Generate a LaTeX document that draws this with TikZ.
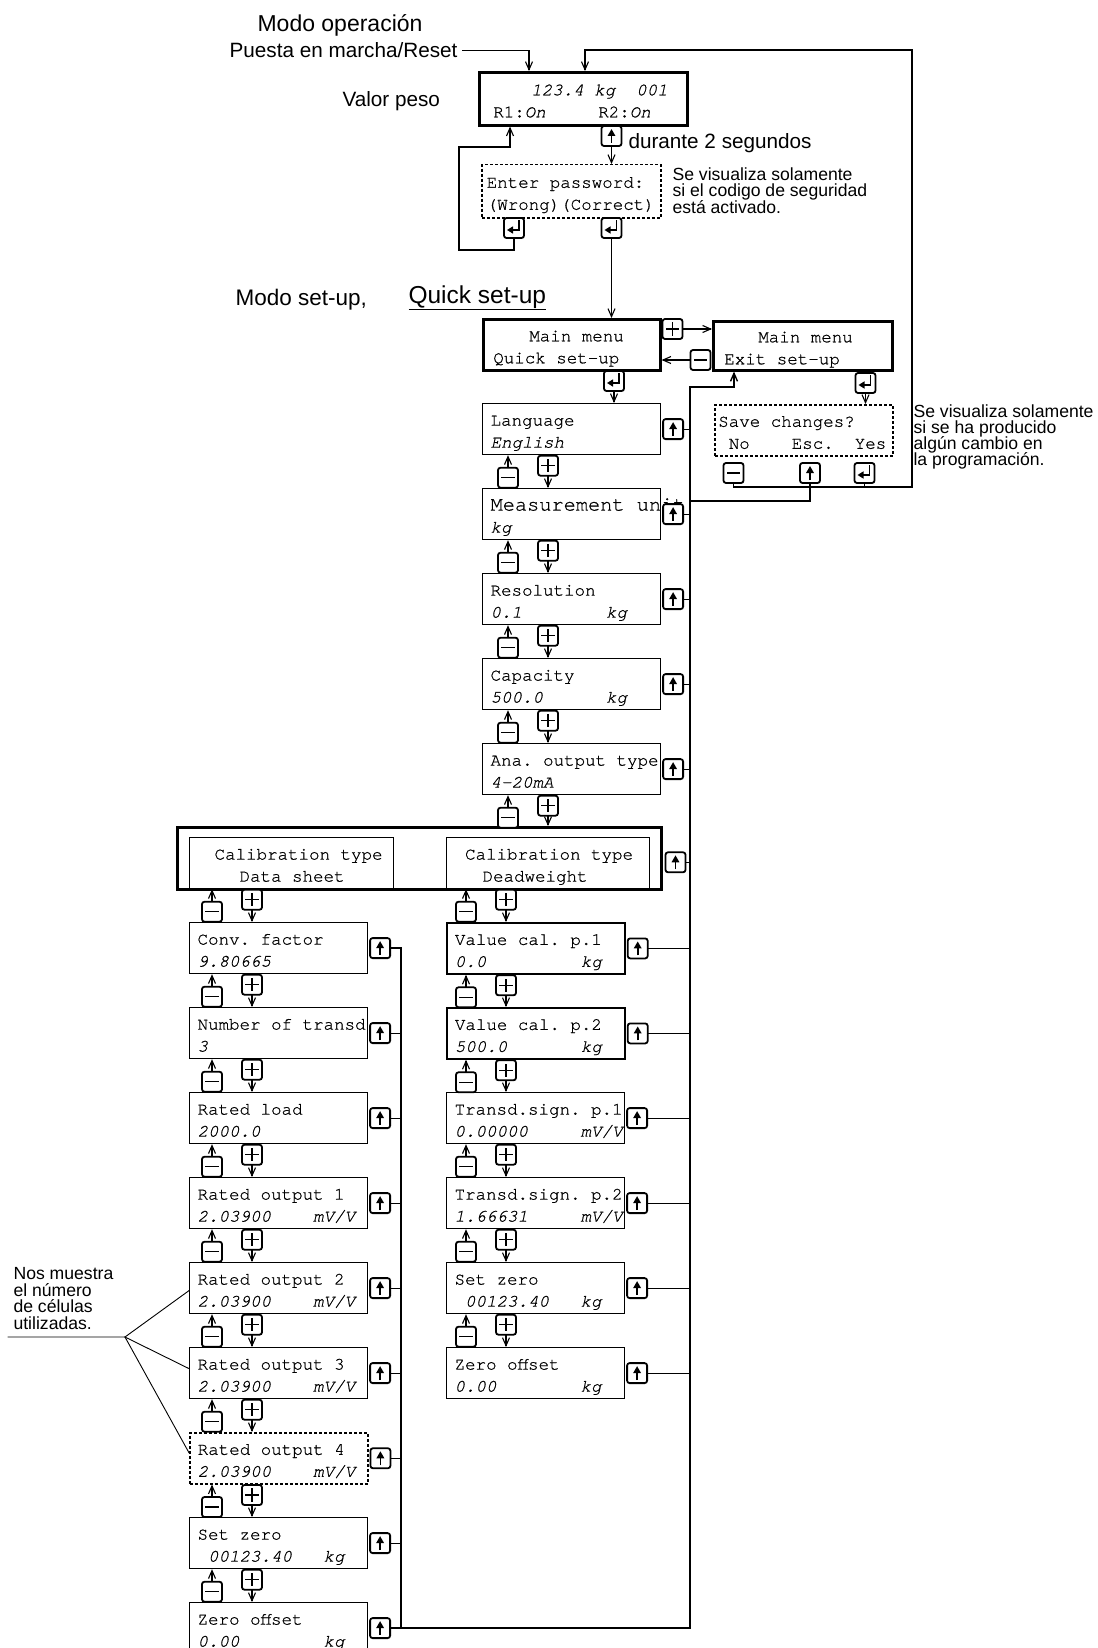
\documentclass[tikz,border=0pt]{standalone}
\usepackage{fontspec}
\setmainfont{Liberation Sans}
\setmonofont{texgyrecursor}[Extension=.otf, UprightFont=*-regular,
  BoldFont=*-bold, ItalicFont=*-italic, BoldItalicFont=*-bolditalic,
  UprightFeatures={FakeBold=0.7}, ItalicFeatures={FakeBold=0.7}]
\usetikzlibrary{arrows.meta,positioning,calc}

\newcommand\lcdfont{\ttfamily\fontsize{17.5}{22}\selectfont\frenchspacing}
\newcommand\notefont{\fontsize{17.6}{16.5}\selectfont\lineskiplimit=-20pt\relax}
\newcommand\tightnotefont{\fontsize{17.6}{16}\selectfont\lineskiplimit=-20pt\relax}
% two display lines; spaces keep the full character width
\newcommand\lcd[2]{\spaceskip=0pt\xspaceskip=0pt\relax
  \hspace*{8pt}#1\rule{0pt}{19pt}\\\hspace*{8pt}#2\rule[-4pt]{0pt}{4pt}}

\begin{document}
\begin{tikzpicture}[
    x=1pt, y=-1pt, line width=1.1pt, line cap=rect,
    >={Straight Barb[length=8pt,width=7pt]},
    lcd/.style={draw, anchor=north west, line width=1.2pt, inner sep=0pt,
      text width=178pt, minimum height=51pt, align=left, font=\lcdfont},
    thickbox/.style={line width=2.6pt},
    dashbox/.style={line width=1.5pt, line cap=butt, dash pattern=on 3pt off 2pt},
    key/.style={draw, fill=white, line width=1.8pt, rounded corners=2.5pt,
      minimum size=20pt, inner sep=0pt},
    pluskey/.style={key, path picture={
        \draw[line width=1.3pt, sharp corners]
        ([xshift=-6pt]path picture bounding box.center) --
        ([xshift=6pt]path picture bounding box.center)
        ([yshift=-6pt]path picture bounding box.center) --
        ([yshift=6pt]path picture bounding box.center);}},
    minuskey/.style={key, path picture={
        \draw[line width=1.3pt, sharp corners]
        ([xshift=-6pt]path picture bounding box.center) --
        ([xshift=6pt]path picture bounding box.center);}},
    upkey/.style={key, path picture={
        \draw[line width=1.6pt, line cap=butt, -{Triangle[length=7pt,width=7.5pt]}]
        ([yshift=-7pt]path picture bounding box.center) --
        ([yshift=7pt]path picture bounding box.center);}},
    enterkey/.style={key, path picture={
        \draw[line width=1.5pt, sharp corners, -{Triangle[length=6pt,width=7pt]}]
        ([shift={(5pt,7pt)}]path picture bounding box.center) --
        ([shift={(5pt,-2pt)}]path picture bounding box.center) --
        ([shift={(-7pt,-2pt)}]path picture bounding box.center);}},
    bigtxt/.style={inner sep=0pt, font=\fontsize{23}{26}\selectfont},
    midtxt/.style={inner sep=0pt, font=\fontsize{20.7}{24}\selectfont},
    notetxt/.style={inner sep=0pt, align=left, anchor=north west, font=\notefont}
  ]
  \useasboundingbox (0,0) rectangle (1097,1648);

  % ------------------ Layout ------------------
  \def\colM{482}
  \def\colL{189}
  \def\colR{446}

  % minus / plus keys under a box
  \def\navkeys#1#2#3{%
    \node[minuskey] (#1-m) at ($(#1.south west)+(#3,22.5)$) {};
    \node[pluskey] (#1-p) at ($(#1.south west)+(#3+40,10.5)$) {};
    \draw[->] (#1-m.north) -- (#1-m.north |- #1.south);
    \draw[->] (#1-p.south) -- (#1-p.south |- #2.north);
  }
  % escape key beside a box, tied to a bus
  \def\backkey#1#2{%
    \node[upkey, anchor=west] (#1-u) at ([xshift=1pt]#1.east) {};
    \draw (#1-u.east) -- (#1-u.east -| #2);
  }

  % ------------------ Operation mode ------------------
  \node[bigtxt, anchor=base west] (modeop) at (257,32) {Modo operación};
  \node[midtxt, anchor=base east] (reset) at (458,58) {Puesta en marcha/Reset};
  \node[lcd, thickbox, text width=208pt, minimum height=53pt] (weight) at (478,71)
  {\lcd{\hspace*{44pt}\textit{123.4~kg~~001}}{\hspace*{6pt}R1:\textit{On}~~~~~R2:\textit{On}}};
  \node[midtxt, anchor=base west] (wlabel) at (342,107) {Valor peso};
  \node[upkey] (wup) at (611.5,136) {};
  \node[midtxt, anchor=base west] (hold) at (628,149) {durante 2 segundos};

  \node[lcd, dashbox, text width=179pt, minimum height=53pt] (pwd) at (481,164)
  {\lcd{\hspace*{-3pt}Enter password:}{\hspace*{-3pt}(Wrong)(Correct)}};
  \node[notetxt] (pwdnote) at (672,167)
  {Se visualiza solamente\\si el codigo de seguridad\\está activado.};
  \node[enterkey] (wrong) at (514,228) {};
  \node[enterkey] (correct) at (611.5,228) {};

  % ------------------ Set-up mode ------------------
  \node[bigtxt, anchor=base west, font=\fontsize{22.5}{26}\selectfont] (modesu)
  at (235,305) {Modo set-up,};
  \node[bigtxt, anchor=base west, font=\fontsize{24.5}{28}\selectfont] (quick)
  at (408,303) {\underline{Quick set-up}};

  \node[lcd, thickbox, text width=177pt] (qs) at (482,318)
  {\lcd{\hspace*{38pt}Main menu}{\hspace*{2pt}Quick set-up}};
  \node[lcd, thickbox, text width=179pt, minimum height=49pt] (exit) at (712,320)
  {\lcd{\hspace*{37pt}Main menu}{\hspace*{3pt}Exit set-up}};
  \node[pluskey] (qsplus) at (672.5,329) {};
  \node[minuskey] (exminus) at (700.5,360) {};
  \node[enterkey] (qsent) at (614,381) {};
  \node[enterkey] (exent) at (865.5,383) {};

  \node[lcd, dashbox] (save) at (714,404)
  {\lcd{\hspace*{-4.5pt}Save changes?}{\hspace*{-4.5pt}~No~~~~Esc.~~Yes}};
  \node[minuskey] (sno) at (733.5,473) {};
  \node[upkey] (sesc) at (810,473) {};
  \node[enterkey] (syes) at (864.5,473) {};
  \node[notetxt, font=\tightnotefont] (savenote) at (913,404)
  {Se visualiza solamente\\si se ha producido\\algún cambio en\\la programación.};

  % ------------------ Quick set-up column ------------------
  \node[lcd] (lang) at (\colM,403) {\lcd{Language}{\textit{English}}};
  \node[lcd] (unit) at (\colM,488)
  {\lcd{{\fontsize{20.3}{22}\selectfont Measurement~unit}}{\textit{kg}}};
  \node[lcd] (res) at (\colM,573) {\lcd{Resolution}{\textit{0.1~~~~~~~~kg}}};
  \node[lcd] (cap) at (\colM,658) {\lcd{Capacity}{\textit{500.0~~~~~~kg}}};
  \node[lcd] (ana) at (\colM,743) {\lcd{Ana. output type}{\textit{4-20mA}}};

  % ------------------ Calibration type ------------------
  \node[draw, thickbox, anchor=north west, minimum width=484pt,
  minimum height=62pt, inner sep=0pt] (calbox) at (176,826) {};
  \node[lcd, text width=204pt] (dsheet) at (\colL,837)
  {\lcd{\hspace*{17pt}Calibration type}{~~~~Data sheet}};
  \node[lcd, text width=203pt] (dweight) at (\colR,837)
  {\lcd{~Calibration type}{\hspace*{28pt}Deadweight}};

  % ------------------ Data sheet column ------------------
  \node[lcd] (conv) at (\colL,922) {\lcd{Conv. factor}{\textit{9.80665}}};
  \node[lcd] (ntr) at (\colL,1007) {\lcd{Number of transd}{\textit{3}}};
  \node[lcd] (rload) at (\colL,1092) {\lcd{Rated load}{\textit{2000.0}}};
  \node[lcd] (ro1) at (\colL,1177) {\lcd{Rated output 1}{\textit{2.03900~~~~mV/V}}};
  \node[lcd] (ro2) at (\colL,1262) {\lcd{Rated output 2}{\textit{2.03900~~~~mV/V}}};
  \node[lcd] (ro3) at (\colL,1347) {\lcd{Rated output 3}{\textit{2.03900~~~~mV/V}}};
  \node[lcd, dashbox] (ro4) at (\colL,1432)
  {\lcd{Rated output 4}{\textit{2.03900~~~~mV/V}}};
  \node[lcd] (szL) at (\colL,1517) {\lcd{Set zero}{\textit{~00123.40~~~kg}}};
  \node[lcd] (zoL) at (\colL,1602) {\lcd{Zero offset}{\textit{0.00~~~~~~~~kg}}};

  % ------------------ Deadweight column ------------------
  \node[lcd, line width=1.8pt] (vc1) at (\colR,922)
  {\lcd{Value cal. p.1}{\textit{0.0~~~~~~~~~kg}}};
  \node[lcd, line width=1.8pt] (vc2) at (\colR,1007)
  {\lcd{Value cal. p.2}{\textit{500.0~~~~~~~kg}}};
  \node[lcd] (ts1) at (\colR,1092) {\lcd{Transd.sign. p.1}{\textit{0.00000~~~~~mV/V}}};
  \node[lcd] (ts2) at (\colR,1177) {\lcd{Transd.sign. p.2}{\textit{1.66631~~~~~mV/V}}};
  \node[lcd] (szR) at (\colR,1262) {\lcd{Set zero}{\textit{~00123.40~~~kg}}};
  \node[lcd] (zoR) at (\colR,1347) {\lcd{Zero offset}{\textit{0.00~~~~~~~~kg}}};

  \node[notetxt] (cellnote) at (13,1267)
  {Nos muestra\\el número\\de células\\utilizadas.};

  % ------------------ Buses ------------------
  \coordinate (busR) at (690,0);
  \coordinate (busL) at (401,0);
  \coordinate (rtop) at (690,387);
  \coordinate (exitin) at (734,387);
  \coordinate (escj) at (690,501);
  \coordinate (retc) at (912,487);
  \coordinate (rett) at (912,50);

  % ------------------ Keys and connectors ------------------
  \navkeys{lang}{unit}{26}
  \navkeys{unit}{res}{26}
  \navkeys{res}{cap}{26}
  \navkeys{cap}{ana}{26}
  \navkeys{ana}{calbox}{26}
  \navkeys{dsheet}{conv}{23}
  \navkeys{dweight}{vc1}{20}
  \navkeys{conv}{ntr}{23}
  \navkeys{ntr}{rload}{23}
  \navkeys{rload}{ro1}{23}
  \navkeys{ro1}{ro2}{23}
  \navkeys{ro2}{ro3}{23}
  \navkeys{ro3}{ro4}{23}
  \navkeys{ro4}{szL}{23}
  \navkeys{szL}{zoL}{23}
  \navkeys{vc1}{vc2}{20}
  \navkeys{vc2}{ts1}{20}
  \navkeys{ts1}{ts2}{20}
  \navkeys{ts2}{szR}{20}
  \navkeys{szR}{zoR}{20}

  \backkey{lang}{busR}
  \backkey{unit}{busR}
  \backkey{res}{busR}
  \backkey{cap}{busR}
  \backkey{ana}{busR}
  \backkey{vc1}{busR}
  \backkey{vc2}{busR}
  \backkey{ts1}{busR}
  \backkey{ts2}{busR}
  \backkey{szR}{busR}
  \backkey{zoR}{busR}
  \backkey{ntr}{busL}
  \backkey{rload}{busL}
  \backkey{ro1}{busL}
  \backkey{ro2}{busL}
  \backkey{ro3}{busL}
  \backkey{ro4}{busL}
  \backkey{szL}{busL}
  \node[upkey, anchor=west] (conv-u) at ([xshift=1pt]conv.east) {};
  \node[upkey, anchor=west] (zoL-u) at ([xshift=1pt]zoL.east) {};
  \node[upkey, anchor=west] (calbox-u) at ([xshift=2pt,yshift=-4pt]calbox.east) {};
  \draw (calbox-u.east) -- (calbox-u.east -| busR);

  \draw[line width=1.4pt, ->] (zoL-u.east) -- (zoL-u.east -| busR) -- (rtop)
  -- (exitin) -- (exitin |- exit.south);
  \draw[line width=1.3pt] (conv-u.east) -| (zoL-u.east -| busL);

  % operation mode loops
  \draw[->] ([xshift=5pt]reset.east) -| ([xshift=51pt]weight.north west);
  \draw[->] (wup.south) -- (wup.south |- pwd.north);
  \coordinate (lp1) at (459,250);
  \coordinate (lp2) at (459,147);
  \coordinate (lp3) at (510,147);
  \draw[->] (wrong.south) |- (lp1) -- (lp2) -- (lp3) -- (lp3 |- weight.south);
  \draw[->] (correct.south) -- (correct.south |- qs.north);

  % main menu
  \draw[->] (qsplus.east) -- (qsplus.east -| exit.west);
  \draw[->] (exminus.west) -- (exminus.west -| qs.east);
  \draw[->] (qsent.south) -- (qsent.south |- lang.north);
  \draw[->] (exent.south) -- (exent.south |- save.north);

  % save changes
  \draw[->] (sno.south) |- (retc) -- (rett) -| ([xshift=107pt]weight.north west);
  \draw (syes.south) -- (syes.south |- retc);
  \draw (sesc.south) |- (escj);

  % cell note
  \coordinate (fanstart) at (8,1337);
  \coordinate (fan) at (125,1337);
  \draw[line width=0.9pt] (fanstart) -- (fan) -- ([yshift=-2.5pt]ro2.west);
  \draw[line width=0.9pt] (fan) -- ([yshift=4.5pt]ro3.west);
  \draw[line width=0.9pt] (fan) -- ([yshift=5.5pt]ro4.west);

\end{tikzpicture}
\end{document}
